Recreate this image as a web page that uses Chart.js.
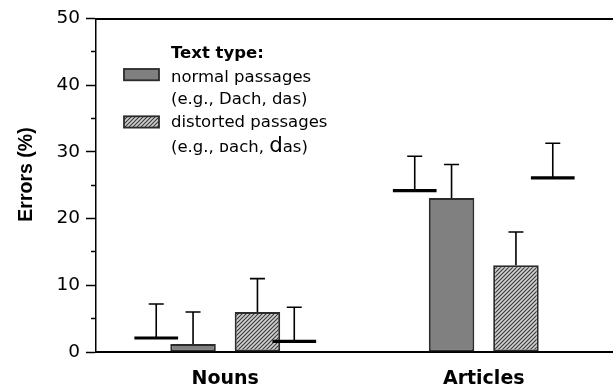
<!DOCTYPE html>
<html><head><meta charset="utf-8">
<script src="https://cdn.jsdelivr.net/npm/chart.js@4/dist/chart.umd.min.js"></script>
<style>html,body{margin:0;padding:0;background:#fff}canvas{display:block}</style>
</head><body>
<canvas id="c" width="613" height="389"></canvas>
<script>
// ---- data ----
const categories = ['Nouns', 'Articles'];
const normalValues = [1.2, 23.1];
const normalErrors = [4.8, 5.0];
const distortedValues = [6.0, 13.0];
const distortedErrors = [5.0, 5.0];
const markerLeftValues = [2.1, 24.2];
const markerLeftErrors = [5.1, 5.15];
const markerRightValues = [1.6, 26.1];
const markerRightErrors = [5.1, 5.2];
const yMajorTicks = [0, 10, 20, 30, 40, 50];
const yMinorTicks = [5, 15, 25, 35, 45];
const yTitle = 'Errors (%)';
const legendTitle = 'Text type:';
const legendNormal = [[['normal passages', 1]], [['(e.g., Dach, das)', 1]]];
const legendDistorted = [[['distorted passages', 1]], [['(e.g., ', 1], ['\u1D05', 1], ['ach, ', 1], ['d', 1.3], ['as)', 1]]];

// ---- styles ----
const hatch = (() => {
  const c = document.createElement('canvas'); c.width = 4; c.height = 4;
  const g = c.getContext('2d');
  g.fillStyle = '#d0d0d0'; g.fillRect(0, 0, 4, 4);
  g.strokeStyle = '#383838'; g.lineWidth = 1.1;
  g.beginPath();
  g.moveTo(-1, 5); g.lineTo(5, -1);
  g.moveTo(-1, 1); g.lineTo(1, -1);
  g.moveTo(3, 5); g.lineTo(5, 3);
  g.stroke();
  return g.createPattern(c, 'repeat');
})();
const GRAY = '#808080', EDGE = '#2b2b2b';
const FONT = '"DejaVu Sans", sans-serif';
const LEG = 16.5;

const overlay = {
  id: 'overlay',
  afterDatasetsDraw(chart) {
    const ctx = chart.ctx, ys = chart.scales.y;
    ctx.save();
    ctx.strokeStyle = '#000';
    chart.data.datasets.forEach((ds, di) => {
      const meta = chart.getDatasetMeta(di);
      meta.data.forEach((el, i) => {
        const top = ys.getPixelForValue(ds.data[i] + ds.errors[i]);
        ctx.lineWidth = 1.6;
        ctx.beginPath();
        ctx.moveTo(el.x, el.y); ctx.lineTo(el.x, top);
        ctx.moveTo(el.x - 7.5, top); ctx.lineTo(el.x + 7.5, top);
        ctx.stroke();
        if (ds.marker) {
          ctx.lineWidth = 3.2;
          ctx.beginPath();
          ctx.moveTo(el.x - el.width / 2, el.y); ctx.lineTo(el.x + el.width / 2, el.y);
          ctx.stroke();
        }
      });
    });
    ctx.restore();
  },
  afterDraw(chart) {
    const ctx = chart.ctx;
    ctx.save();
    ctx.fillStyle = '#000';
    ctx.font = 'bold 19.5px "Liberation Sans", Arial, sans-serif';
    ctx.translate(32.3, 174.5);
    ctx.rotate(-Math.PI / 2);
    ctx.textAlign = 'center'; ctx.textBaseline = 'alphabetic';
    ctx.fillText(yTitle, 0, 0);
    ctx.restore();

    ctx.save();
    ctx.fillStyle = '#000';
    ctx.textAlign = 'left'; ctx.textBaseline = 'alphabetic';
    ctx.font = 'bold ' + LEG + 'px ' + FONT;
    ctx.fillText(legendTitle, 171, 57.7);
    const drawRuns = (runs, x, y) => {
      runs.forEach(([t, s]) => {
        ctx.font = (LEG * s) + 'px ' + FONT;
        ctx.fillText(t, x, y);
        x += ctx.measureText(t).width;
      });
    };
    const items = [
      {ds: chart.data.datasets[1], lines: legendNormal, sy: 69, base: [81.5, 104]},
      {ds: chart.data.datasets[2], lines: legendDistorted, sy: 116.3, base: [127, 151.5]}
    ];
    items.forEach(it => {
      ctx.fillStyle = it.ds.backgroundColor;
      ctx.fillRect(124, it.sy, 35, 11.3);
      ctx.strokeStyle = EDGE; ctx.lineWidth = 1.8;
      ctx.strokeRect(124, it.sy, 35, 11.3);
      ctx.fillStyle = '#000';
      it.lines.forEach((runs, k) => drawRuns(runs, 171, it.base[k]));
    });
    ctx.restore();
  }
};

const markerStyle = {backgroundColor: 'rgba(0,0,0,0)', borderWidth: 0, marker: true,
  categoryPercentage: 0.712, barPercentage: 0.95, xAxisID: 'x'};
const barStyle = {borderColor: EDGE, borderWidth: 2, borderSkipped: false,
  categoryPercentage: 0.9965, barPercentage: 0.7065, xAxisID: 'x'};

new Chart(document.getElementById('c'), {
  type: 'bar',
  data: {
    labels: categories,
    datasets: [
      Object.assign({label: 'left marker', data: markerLeftValues, errors: markerLeftErrors}, markerStyle),
      Object.assign({label: 'normal passages', data: normalValues, errors: normalErrors, backgroundColor: GRAY}, barStyle),
      Object.assign({label: 'distorted passages', data: distortedValues, errors: distortedErrors, backgroundColor: hatch}, barStyle),
      Object.assign({label: 'right marker', data: markerRightValues, errors: markerRightErrors}, markerStyle)
    ]
  },
  options: {
    responsive: false, animation: false, devicePixelRatio: 1,
    layout: {padding: {top: 18.5, right: 0, bottom: 0, left: 0}},
    plugins: {legend: {display: false}, tooltip: {enabled: false}},
    scales: {
      x: {
        type: 'category', position: 'bottom', offset: true,
        grid: {display: false},
        border: {display: true, color: '#000', width: 2},
        ticks: {color: '#000', font: {family: FONT, size: 19, weight: 'bold'}, padding: 8, maxRotation: 0},
        afterFit(s) { s.height = 37; }
      },
      xTop: {
        type: 'category', position: 'top', offset: true,
        grid: {display: false},
        border: {display: true, color: '#000', width: 2},
        ticks: {display: false},
        afterFit(s) { s.height = 0; }
      },
      y: {
        min: 0, max: 50,
        afterBuildTicks(s) {
          s.ticks = yMajorTicks.concat(yMinorTicks).sort((a, b) => a - b).map(v => ({value: v}));
        },
        ticks: {color: '#000', padding: 6, font: {family: FONT, size: 18.5},
          callback: (v) => yMajorTicks.includes(v) ? String(v) : ''},
        grid: {drawOnChartArea: false, drawTicks: true, tickLength: 10, tickColor: '#000', tickWidth: 1.5,
          tickBorderDash: (c) => (c.tick && yMinorTicks.includes(c.tick.value)) ? [0, 5, 5, 50] : []},
        border: {display: true, color: '#000', width: 1.5},
        afterFit(s) { s.width = 96; }
      }
    }
  },
  plugins: [overlay]
});
</script>
</body></html>
